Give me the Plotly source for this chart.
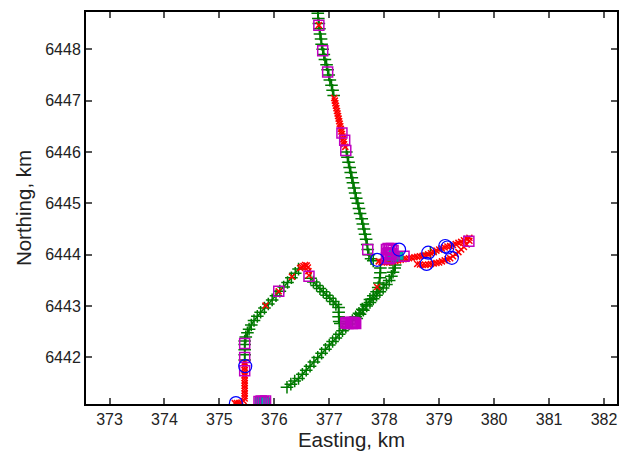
import plotly.graph_objects as go

# ---------------- data (km) ----------------
# green "+" track points (None separates segments)
green_x = [
    # north route, upper part
    376.79, 376.80, 376.81, 376.82, 376.83, 376.85, 376.86, 376.88, 376.90, 376.92,
    376.95, 376.97, 376.99, 377.01, 377.04, 377.06, 377.08, None,
    # north route, lower part
    377.31, 377.33, 377.35, 377.37, 377.39, 377.41, 377.43, 377.45, 377.47, 377.49,
    377.52, 377.54, 377.56, 377.59, 377.61, 377.63, 377.65, 377.67, 377.69, 377.70,
    377.72, 377.76, 377.80, None,
    # west loop, going north then north-east
    375.46, 375.46, 375.46, 375.46, 375.46, 375.48, 375.51, 375.54, 375.58, 375.63,
    375.69, 375.75, 375.82, 375.89, 375.96, 376.03, 376.10, 376.17, 376.24, 376.31,
    376.38, 376.44, None,
    # west loop, going south-east
    376.66, 376.71, 376.77, 376.83, 376.89, 376.95, 377.01, 377.07, 377.12, 377.17,
    377.17, 377.17, 377.18, 377.20, None,
    # from junction north-east to cluster
    377.50, 377.56, 377.62, 377.68, 377.74, 377.80, 377.86, 377.92, 377.98, 378.04,
    378.09, 378.13, 378.16, 378.19, 378.20, None,
    # south-west track to cluster
    376.23, 376.30, 376.37, 376.44, 376.51, 376.58, 376.65, 376.72, 376.79, 376.86,
    376.93, 377.00, 377.06, 377.12, 377.18, 377.24, 377.30, 377.36, 377.42, 377.48,
    377.54, 377.60, 377.67, 377.74, 377.80, 377.86, 377.89, 377.91, 377.92, 377.93,
    377.93, None,
    378.84,
]
green_y = [
    6448.70, 6448.60, 6448.50, 6448.40, 6448.30, 6448.20, 6448.10, 6448.00, 6447.90, 6447.80,
    6447.70, 6447.60, 6447.50, 6447.40, 6447.30, 6447.20, 6447.10, None,
    6446.00, 6445.90, 6445.80, 6445.70, 6445.60, 6445.50, 6445.40, 6445.30, 6445.20, 6445.10,
    6445.00, 6444.90, 6444.80, 6444.70, 6444.60, 6444.50, 6444.40, 6444.30, 6444.20, 6444.10,
    6444.00, 6443.92, 6443.88, None,
    6441.95, 6442.05, 6442.15, 6442.25, 6442.32, 6442.40, 6442.48, 6442.55, 6442.63, 6442.72,
    6442.80, 6442.88, 6442.96, 6443.04, 6443.12, 6443.20, 6443.29, 6443.37, 6443.46, 6443.55,
    6443.64, 6443.72, None,
    6443.54, 6443.47, 6443.40, 6443.34, 6443.28, 6443.21, 6443.15, 6443.09, 6443.03, 6442.97,
    6442.88, 6442.79, 6442.70, 6442.66, None,
    6442.76, 6442.84, 6442.92, 6443.00, 6443.07, 6443.14, 6443.21, 6443.28, 6443.35, 6443.42,
    6443.50, 6443.58, 6443.66, 6443.74, 6443.80, None,
    6441.42, 6441.48, 6441.54, 6441.59, 6441.67, 6441.75, 6441.83, 6441.91, 6442.00, 6442.08,
    6442.16, 6442.24, 6442.31, 6442.38, 6442.45, 6442.52, 6442.59, 6442.65, 6442.72, 6442.79,
    6442.86, 6442.94, 6443.03, 6443.13, 6443.20, 6443.28, 6443.36, 6443.45, 6443.55, 6443.65,
    6443.74, None,
    6444.03,
]

# red "x" points
red_x = [
    376.81,
    # north route red section
    377.09, 377.10, 377.11, 377.12, 377.13, 377.14, 377.15, 377.16, 377.17, 377.18,
    377.19, 377.20, 377.21, 377.22, 377.23, 377.24, 377.25, 377.26, 377.27, 377.29,
    # south-west corner
    375.28, 375.32, 375.36, 375.40, 375.44,
    375.46, 375.46, 375.46, 375.46, 375.46, 375.46, 375.46, 375.46, 375.46, 375.46,
    375.46, 375.46, 375.46, 375.46, 375.46,
    # isolated points on west loop
    375.84, 376.08, 376.32,
    # west loop apex
    376.47, 376.50, 376.53, 376.56, 376.59, 376.61, 376.62, 376.63,
    377.87,
    # east loop
    377.90, 377.95, 378.00, 378.05, 378.10, 378.15, 378.20, 378.25, 378.30,
    378.35, 378.40, 378.45, 378.50, 378.55, 378.60, 378.65, 378.70, 378.75, 378.80,
    378.85, 378.90, 378.95, 379.00, 379.05, 379.10, 379.15, 379.20, 379.25, 379.30,
    379.35, 379.40, 379.45, 379.50, 379.55,
    379.55, 379.50, 379.45, 379.40, 379.35, 379.30, 379.25, 379.20, 379.15, 379.10,
    379.05, 379.00, 378.95, 378.90, 378.85, 378.80, 378.75, 378.70, 378.65, 378.60,
]
red_y = [
    6448.47,
    6447.05, 6447.00, 6446.95, 6446.90, 6446.85, 6446.80, 6446.75, 6446.70, 6446.65, 6446.60,
    6446.55, 6446.50, 6446.45, 6446.40, 6446.35, 6446.30, 6446.25, 6446.20, 6446.15, 6446.10,
    6441.11, 6441.11, 6441.11, 6441.12, 6441.15,
    6441.20, 6441.25, 6441.30, 6441.35, 6441.40, 6441.45, 6441.50, 6441.55, 6441.60, 6441.65,
    6441.70, 6441.75, 6441.80, 6441.85, 6441.90,
    6443.01, 6443.29, 6443.57,
    6443.74, 6443.76, 6443.78, 6443.80, 6443.79, 6443.75, 6443.68, 6443.60,
    6443.37,
    6443.87, 6443.86, 6443.85, 6443.85, 6443.86, 6443.87, 6443.88, 6443.89, 6443.90,
    6443.91, 6443.92, 6443.93, 6443.94, 6443.95, 6443.96, 6443.97, 6443.98, 6443.99, 6444.01,
    6444.03, 6444.05, 6444.08, 6444.10, 6444.12, 6444.14, 6444.16, 6444.17, 6444.19, 6444.21,
    6444.23, 6444.25, 6444.28, 6444.31, 6444.33,
    6444.27, 6444.20, 6444.15, 6444.10, 6444.05, 6444.01, 6443.97, 6443.93, 6443.91, 6443.89,
    6443.87, 6443.85, 6443.84, 6443.83, 6443.82, 6443.81, 6443.80, 6443.80, 6443.81, 6443.82,
]

# cyan filled markers
cyan_x = [375.72, 375.76, 375.80, 375.84, 378.12, 378.16, 378.20, 378.27]
cyan_y = [6441.14, 6441.14, 6441.14, 6441.14, 6443.96, 6444.02, 6443.95, 6443.98]

# magenta open squares
sq_x = [
    376.81, 376.88, 376.97, 377.23, 377.28, 377.30, 377.70,
    375.46, 375.46, 375.46, 376.08, 376.63,
    377.30, 377.32, 377.34, 377.36, 377.38, 377.40, 377.42, 377.44, 377.46, 377.48,
    375.72, 375.76, 375.80, 375.84,
    378.04, 378.07, 378.10, 378.13, 378.16, 378.05, 378.08, 378.11, 378.14, 378.04, 378.08, 378.12,
    378.36, 379.54,
]
sq_y = [
    6448.47, 6447.97, 6447.56, 6446.37, 6446.23, 6446.03, 6444.10,
    6442.27, 6442.00, 6441.74, 6443.29, 6443.58,
    6442.67, 6442.68, 6442.66, 6442.68, 6442.67, 6442.68, 6442.66, 6442.68, 6442.67, 6442.66,
    6441.14, 6441.15, 6441.14, 6441.15,
    6444.10, 6444.12, 6444.10, 6444.12, 6444.08, 6444.02, 6444.04, 6444.00, 6444.02, 6443.94, 6443.92, 6443.94,
    6443.97, 6444.26,
]

# blue open circles
circ_x = [375.30, 375.47, 377.87, 378.27, 378.80, 378.77, 379.11, 379.15, 379.23]
circ_y = [6441.11, 6441.83, 6443.90, 6444.10, 6444.04, 6443.82, 6444.17, 6444.14, 6443.94]

x_ticks = [373, 374, 375, 376, 377, 378, 379, 380, 381, 382]
y_ticks = [6442, 6443, 6444, 6445, 6446, 6447, 6448]

# ---------------- figure ----------------
fig = go.Figure()
fig.add_trace(go.Scatter(
    x=green_x, y=green_y, mode="lines+markers",
    line=dict(color="#007a00", width=1.5),
    marker=dict(symbol="cross-thin-open", size=9, color="#007a00",
                line=dict(color="#007a00", width=1.5)),
    connectgaps=False, showlegend=False))
fig.add_trace(go.Scatter(
    x=red_x, y=red_y, mode="markers",
    marker=dict(symbol="x-thin-open", size=6, color="#ff0000",
                line=dict(color="#ff0000", width=1.5)),
    showlegend=False))
fig.add_trace(go.Scatter(
    x=cyan_x, y=cyan_y, mode="markers",
    marker=dict(symbol="square", size=8, color="#00b0b0",
                line=dict(color="#008f8f", width=1)),
    showlegend=False))
fig.add_trace(go.Scatter(
    x=sq_x, y=sq_y, mode="markers",
    marker=dict(symbol="square-open", size=10, color="#c000c0",
                line=dict(color="#c000c0", width=1.5)),
    showlegend=False))
fig.add_trace(go.Scatter(
    x=circ_x, y=circ_y, mode="markers",
    marker=dict(symbol="circle-open", size=13, color="#0000ff",
                line=dict(color="#0000ff", width=1.2)),
    showlegend=False))

axis_common = dict(
    showgrid=False, zeroline=False, showline=True, linecolor="black", linewidth=2,
    mirror="ticks", ticks="inside", ticklen=6, tickwidth=1.5, tickcolor="#555555",
    tickfont=dict(family="Liberation Sans, Arial, sans-serif", size=16, color="#222222"),
)
fig.update_xaxes(
    range=[372.572, 382.236], tickvals=x_ticks, ticktext=[str(v) for v in x_ticks],
    title=dict(text="Easting, km", font=dict(family="Liberation Sans, Arial, sans-serif",
                                             size=20.5, color="#222222"), standoff=4),
    **axis_common)
fig.update_yaxes(
    range=[6441.093, 6448.726], tickvals=y_ticks, ticktext=[str(v) for v in y_ticks],
    title=dict(text="Northing, km", font=dict(family="Liberation Sans, Arial, sans-serif",
                                              size=20.5, color="#222222"), standoff=8),
    **axis_common)
fig.update_layout(
    width=623, height=452,
    margin=dict(l=86, r=4, t=12, b=48),
    plot_bgcolor="white", paper_bgcolor="white",
)
fig.write_html("out.html", config={"responsive": False, "displayModeBar": False},
               post_script="document.body.style.margin='0';document.body.style.overflow='hidden';")
